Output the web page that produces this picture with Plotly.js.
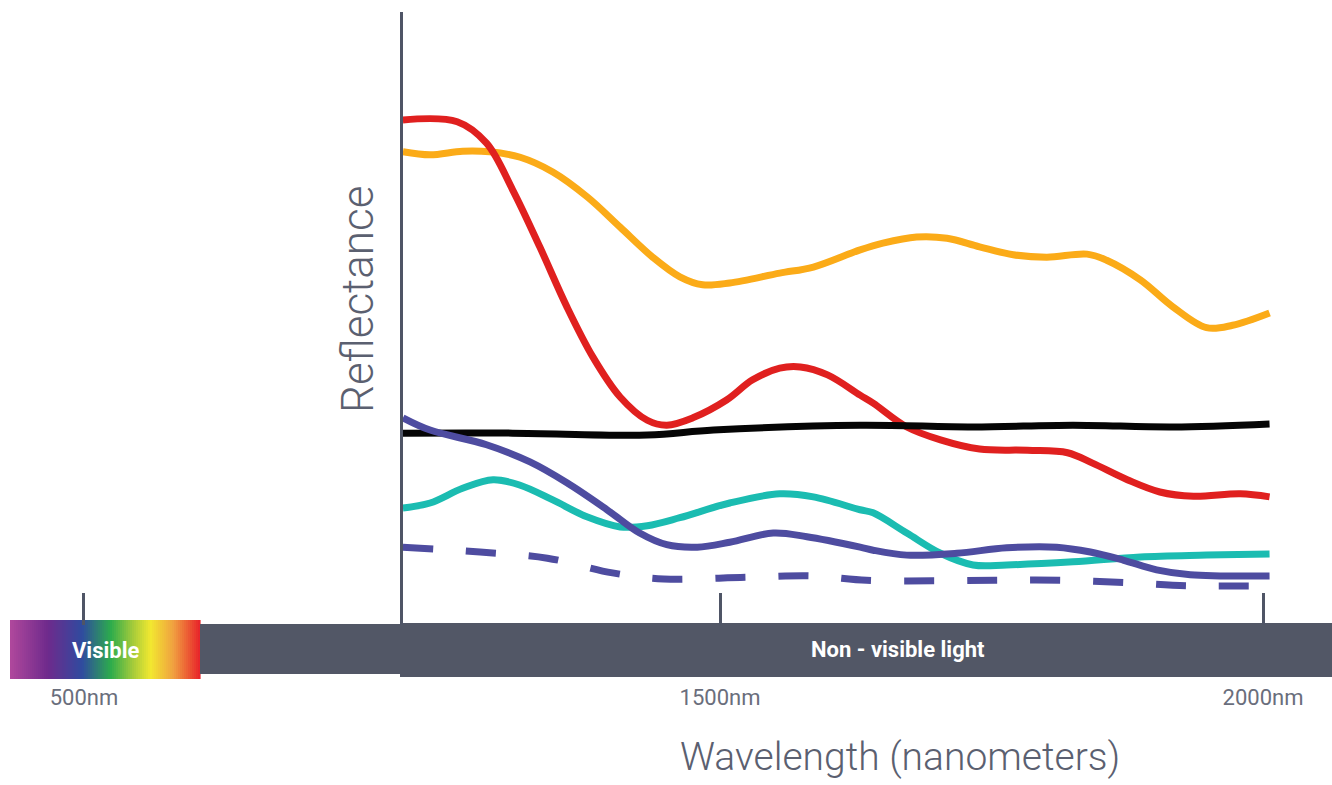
<!DOCTYPE html>
<html><head><meta charset="utf-8">
<script src="https://cdn.plot.ly/plotly-3.0.1.min.js"></script>
<style>html,body{margin:0;padding:0;background:#fff;}#chart{width:1332px;height:785px;}</style>
</head><body><div id="chart"></div>
<script>
// Wavelength (nm) samples and reflectance values (relative units, 0-100)
const redX    = [1208,1258,1285,1309,1334,1359,1383,1408,1433,1451,1475,1506,1530,1555,1574,1599,1629,1641,1672,1703,1739,1783,1820,1843,1875,1905,1936,1979,2006];
const redY    = [82.4,82.1,78.6,71.0,61.7,51.9,43.7,37.2,33.4,32.6,33.8,36.7,40.0,41.9,42.1,40.8,37.5,36.2,32.3,30.2,28.7,28.5,28.1,26.4,23.7,21.7,21.0,21.4,20.9];
const orangeX = [1208,1233,1263,1288,1316,1346,1378,1408,1438,1463,1484,1509,1555,1586,1629,1650,1681,1709,1739,1770,1801,1838,1856,1887,1917,1948,1972,2006];
const orangeY = [77.2,76.7,77.3,77.2,76.3,73.9,69.8,64.9,60.0,56.8,55.5,55.8,57.4,58.4,61.2,62.3,63.3,63.1,61.7,60.4,60.0,60.5,59.5,56.3,51.9,48.5,48.9,50.9];
const blackX  = [1208,1309,1433,1494,1629,1733,1825,1917,2006];
const blackY  = [31.3,31.3,31.0,31.8,32.6,32.3,32.6,32.3,32.8];
const purpleX = [1208,1233,1285,1325,1359,1396,1426,1451,1479,1509,1549,1580,1629,1641,1672,1718,1764,1810,1841,1871,1902,1933,2006];
const purpleY = [33.8,31.8,29.4,26.6,23.2,18.8,15.0,13.1,12.7,13.5,15.0,14.4,12.7,12.2,11.4,11.7,12.6,12.7,11.9,10.6,9.0,8.2,8.0];
const tealX   = [1208,1233,1263,1291,1316,1346,1378,1408,1433,1463,1509,1555,1586,1629,1641,1672,1703,1733,1764,1825,1887,1948,2006];
const tealY   = [19.1,19.9,22.3,23.7,22.8,20.4,17.6,16.0,16.2,17.5,19.9,21.4,20.9,18.8,18.3,15.0,11.7,9.8,9.8,10.3,11.1,11.4,11.6];
const dashX   = [1208,1279,1341,1401,1448,1525,1586,1635,1696,1755,1813,1875,1933,2006];
const dashY   = [12.7,11.9,10.9,8.5,7.5,7.8,8.0,7.3,7.2,7.3,7.3,6.9,6.4,6.4];

const tickVals  = [914.3, 1500, 2000];
const tickText  = ['500nm', '1500nm', '2000nm'];
const xRange    = [837.0, 2063.5];

const W = 1332, PT = 12, PB = 625, PH = PB - PT;
const px = v => v / W;
const py = v => (PB - v) / PH;

function line(x, y, color, dash) {
  return {x: x, y: y, type: 'scatter', mode: 'lines', hoverinfo: 'skip',
          line: {color: color, width: 7, shape: 'spline', smoothing: 1, dash: dash || 'solid'}};
}
const traces = [
  line(orangeX, orangeY, '#fbab18'),
  line(redX, redY, '#e0201f'),
  line(blackX, blackY, '#050505'),
  line(tealX, tealY, '#1bbcb1'),
  line(purpleX, purpleY, '#4e4ca0'),
  line(dashX, dashY, '#4e4ca0', '30px,33px')
];

// spectrum gradient (decorative)
const stops = [[0,[176,72,156]],[0.2,[110,42,140]],[0.38,[47,75,159]],[0.53,[44,172,76]],[0.65,[168,204,58]],[0.74,[242,232,48]],[0.86,[240,160,64]],[1,[232,34,42]]];
function col(t){
  for (let i=0;i<stops.length-1;i++){
    const a=stops[i], b=stops[i+1];
    if (t>=a[0] && t<=b[0]){
      const f=(t-a[0])/(b[0]-a[0]);
      const c=a[1].map((v,k)=>Math.round(v+(b[1][k]-v)*f));
      return 'rgb('+c.join(',')+')';
    }
  }
  return 'rgb(232,34,42)';
}
const shapes = [];
const gx0 = 10, gx1 = 200, n = 95;
for (let i=0;i<n;i++){
  const a = gx0 + (gx1-gx0)*i/n, b = gx0 + (gx1-gx0)*(i+1)/n + 0.6;
  shapes.push({type:'rect', xref:'paper', yref:'paper', x0:px(a), x1:px(b), y0:py(679), y1:py(620),
               fillcolor: col((i+0.5)/n), line:{width:0}, layer:'below'});
}
shapes.push({type:'rect', xref:'paper', yref:'paper', x0:px(200), x1:px(401), y0:py(674), y1:py(624), fillcolor:'#525766', line:{width:0}, layer:'below'});
shapes.push({type:'rect', xref:'paper', yref:'paper', x0:px(400), x1:px(1332), y0:py(677), y1:py(623), fillcolor:'#525766', line:{width:0}, layer:'below'});

const font = 'Roboto, "Open Sans", sans-serif';
function ann(text, x, y, size, color, weight, angle) {
  return {text: text, xref: 'paper', yref: 'paper', x: px(x), y: py(y), xanchor: 'center', yanchor: 'middle',
          textangle: angle || 0, showarrow: false, font: {family: font, size: size, color: color, weight: weight}};
}
const layout = {
  width: 1332, height: 785,
  margin: {l: 0, r: 0, t: PT, b: 785 - PB, pad: 0},
  paper_bgcolor: '#ffffff', plot_bgcolor: 'rgba(0,0,0,0)',
  showlegend: false,
  xaxis: {range: xRange, showgrid: false, zeroline: false, showline: false,
          tickmode: 'array', tickvals: tickVals, ticktext: tickText,
          ticks: 'inside', ticklen: 32, tickwidth: 3, tickcolor: '#4f5566',
          ticklabelstandoff: 57,
          tickfont: {family: font, size: 22, color: '#6a6e7c'}, fixedrange: true},
  yaxis: {range: [0, 100], anchor: 'free', position: 401 / W, showgrid: false, zeroline: false,
          showline: true, linecolor: '#4f5566', linewidth: 3, showticklabels: false, ticks: '', fixedrange: true},
  shapes: shapes,
  annotations: [
    ann('Reflectance', 358, 300, 44, '#5b6070', 300, -90),
    ann('Wavelength (nanometers)', 900, 757, 39, '#5b6070', 300),
    ann('Visible', 106, 650, 22, '#ffffff', 700),
    ann('Non - visible light', 898, 649, 22, '#ffffff', 700)
  ]
};
Plotly.newPlot('chart', traces, layout, {displayModeBar: false, staticPlot: true});
</script></body></html>
